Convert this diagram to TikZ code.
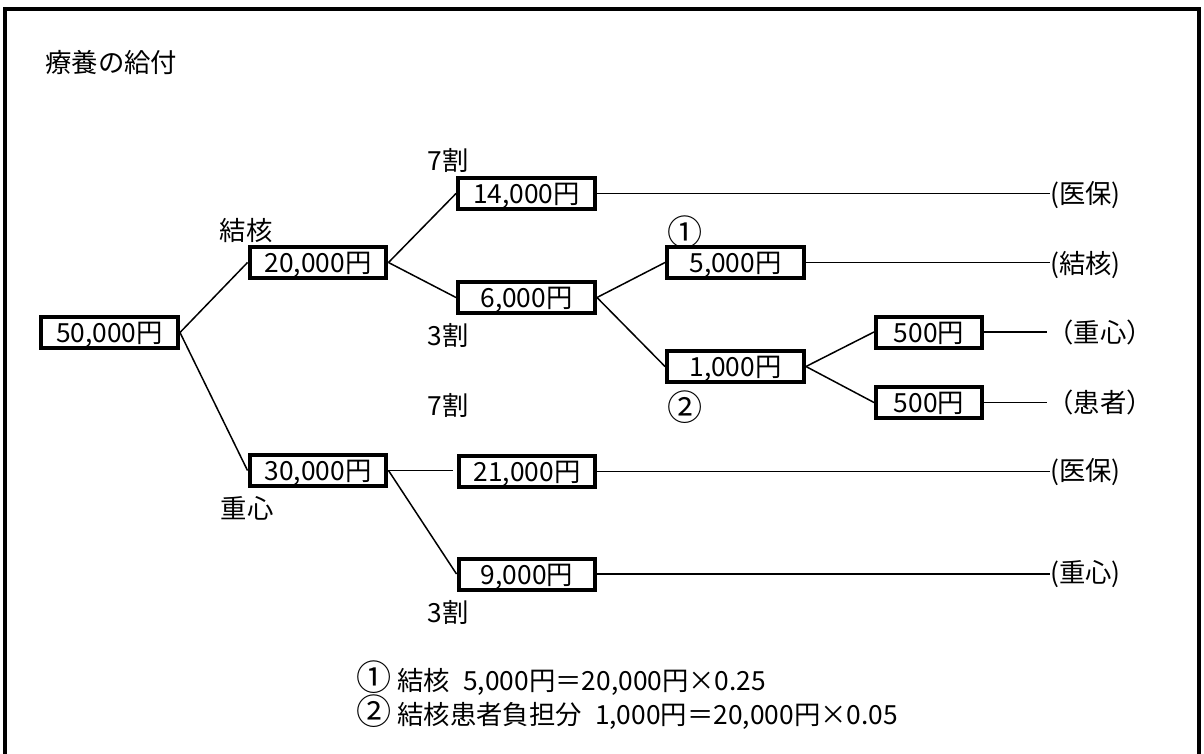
\documentclass[tikz,border=0pt]{standalone}
\usepackage{fontspec}
\setmainfont{Noto Sans CJK JP}
\usetikzlibrary{positioning}
\newcommand\maru[1]{{\fontsize{20}{20}\selectfont #1}}

\begin{document}
\begin{tikzpicture}[x=0.02cm, y=-0.02cm,
        every node/.style={font=\fontsize{15}{17}\selectfont},
        amount/.style={draw, line width=0.08cm, minimum width=2.74cm, minimum height=0.62cm,
          inner sep=0pt, text height=0.4cm, text depth=0pt},
        small/.style={amount, minimum width=2.12cm},
        note/.style={inner sep=0pt},
        payer/.style={inner sep=0pt, anchor=west},
        foot/.style={inner sep=0pt, anchor=west},
        link/.style={line width=0.03cm}
      ]
      \useasboundingbox (0,0) rectangle (1204,754);
      \draw[line width=0.08cm] (5,770) -- (5,9) -- (1199,9) -- (1199,770);

      \node[note, anchor=west] (title) at (45,62) {療養の給付};

      % tree of amounts
      \node[amount] (b50) at (109.5,332.5) {50,000円};
      \node[amount] (b20) at (318,262.5) {20,000円};
      \node[amount] (b30) at (318,470.5) {30,000円};
      \node[amount] (b14) at (526.5,193.5) {14,000円};
      \node[amount] (b6)  at (526.5,297.5) {6,000円};
      \node[amount] (b21) at (527,471.5) {21,000円};
      \node[amount] (b9)  at (527,574) {9,000円};
      \node[amount] (b5)  at (735.5,262.5) {5,000円};
      \node[amount] (b1)  at (735.5,366.5) {1,000円};
      \node[small] (b5a) at (929,332) {500円};
      \node[small] (b5b) at (929,402.5) {500円};

      \node[note] (kekkaku) at (246,231) {結核};
      \node[note] (jushin) at (247,508) {重心};
      \node[note] (r7a) at (448,160) {7割};
      \node[note] (r3a) at (448,335) {3割};
      \node[note] (r7b) at (448,405) {7割};
      \node[note] (r3b) at (448,612) {3割};
      \node[note] (c1) at (685,232) {\maru{①}};
      \node[note] (c2) at (685,407) {\maru{②}};

      % payers on the right
      \node[payer] (p14) at (1050,195) {(医保)};
      \node[payer] (p5)  at (1050,265) {(結核)};
      \node[payer] (p5a) at (1047,332) {（重心）};
      \node[payer] (p5b) at (1047,402) {（患者）};
      \node[payer] (p21) at (1050,472) {(医保)};
      \node[payer] (p9)  at (1050,574) {(重心)};

      \draw[link] (b50.east) -- (b20.west);
      \draw[link] (b50.east) -- (b30.west);
      \draw[link] (b20.east) -- (b14.west);
      \draw[link] (b20.east) -- (b6.west);
      \draw[link] (b6.east) -- (b5.west);
      \draw[link] (b6.east) -- (b1.west);
      \draw[link] (b1.east) -- (b5a.west);
      \draw[link] (b1.east) -- (b5b.west);
      \draw[link, shorten >=0.08cm] (b30.east) -- (b30.east -| b21.west);
      \draw[link] (b30.east) -- (b9.west);

      \draw[link] (b14.east) -- (b14.east -| p14.west);
      \draw[link] (b5.east) -- (b5.east -| p5.west);
      \draw[link] (b5a.east) -- (b5a.east -| p5a.west);
      \draw[link] (b5b.east) -- (b5b.east -| p5b.west);
      \draw[link] (b21.east) -- (b21.east -| p21.west);
      \draw[link] (b9.east) -- (b9.east -| p9.west);

      \node[foot] (n1) at (356,678) {\maru{①} 結核\hspace{0.5em}5,000円＝20,000円×0.25};
      \node[foot] (n2) at (356,712) {\maru{②} 結核患者負担分\hspace{0.5em}1,000円＝20,000円×0.05};
    \end{tikzpicture}
\end{document}
